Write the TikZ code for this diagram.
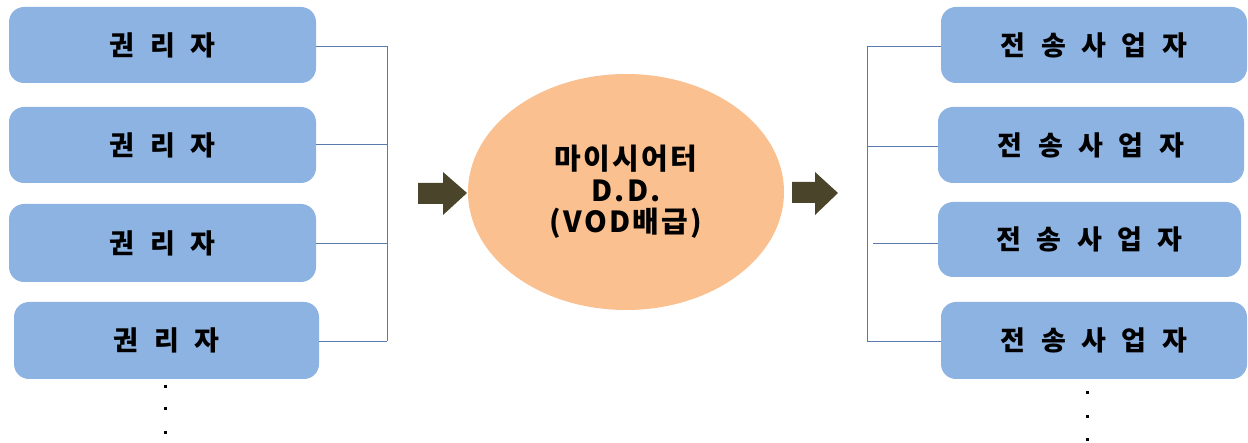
\documentclass[tikz,border=0pt]{standalone}
\usepackage{fontspec}
\usetikzlibrary{shapes.geometric}
\newfontfamily\krfont[WordSpace={2.5,0,0}]{Noto Sans CJK KR}
\newfontfamily\krmid[LetterSpace=8]{Noto Sans CJK KR}
\definecolor{boxblue}{HTML}{8DB3E2}
\definecolor{peach}{HTML}{FAC090}
\definecolor{olive}{HTML}{4A452A}
\definecolor{linec}{HTML}{5A7AAE}
\begin{document}
\begin{tikzpicture}[x=1pt,y=-1pt,
  pbox/.style={fill=boxblue, draw=none, rounded corners=15pt, inner sep=0pt, font=\krfont\bfseries\fontsize{27}{30}\selectfont, text=black},
  conn/.style={draw=linec, line width=0.9pt},
  blockarrow/.style={fill=olive, draw=none},
  dotc/.style={fill=black, minimum size=3pt, inner sep=0pt}]
\useasboundingbox (0,0) rectangle (1248,443);
% left boxes
\node[pbox, minimum width=307pt, minimum height=76pt] (l1) at (162.5,45) {권 리 자};
\node[pbox, minimum width=307pt, minimum height=76pt] (l2) at (162.5,145) {권 리 자};
\node[pbox, minimum width=307pt, minimum height=78pt] (l3) at (162.5,243) {권 리 자};
\node[pbox, minimum width=305pt, minimum height=77pt] (l4) at (166.5,340.5) {권 리 자};
% right boxes
\node[pbox, minimum width=306pt, minimum height=76pt] (r1) at (1094,45) {전 송 사 업 자};
\node[pbox, minimum width=306pt, minimum height=76pt] (r2) at (1091,145) {전 송 사 업 자};
\node[pbox, minimum width=303pt, minimum height=75pt] (r3) at (1089.5,239.5) {전 송 사 업 자};
\node[pbox, minimum width=306pt, minimum height=77pt] (r4) at (1094,340.5) {전 송 사 업 자};
% centre ellipse
\node[fill=peach, draw=none, ellipse, minimum width=316pt, minimum height=236pt, inner sep=0pt,
      font=\krmid\bfseries\fontsize{29}{31.5}\selectfont, align=center] (c) at (626,192)
  {마이시어터\\D.D.\\(VOD배급)};
% left bracket
\coordinate (lb1) at (387,46);
\coordinate (lb2) at (387,144);
\coordinate (lb3) at (387,243);
\coordinate (lb4) at (387,341);
\draw[conn] (l1.east |- lb1) -- (lb1);
\draw[conn] (l2.east |- lb2) -- (lb2);
\draw[conn] (l3.east |- lb3) -- (lb3);
\draw[conn] (l4.east |- lb4) -- (lb4);
\draw[conn] (lb1) -- (lb4);
% right bracket
\coordinate (rb1) at (867,46);
\coordinate (rb2) at (867,146);
\coordinate (rb3) at (873,243);
\coordinate (rb4) at (867,341);
\draw[conn] (rb1) -- (r1.west |- rb1);
\draw[conn] (rb2) -- (r2.west |- rb2);
\draw[conn] (rb3) -- (r3.west |- rb3);
\draw[conn] (rb4) -- (r4.west |- rb4);
\draw[conn] (rb1) -- (rb4);
% block arrows
\fill[blockarrow] (418,183) -- (443,183) -- (443,172) -- (467,193) -- (443,215) -- (443,204) -- (418,204) -- cycle;
\fill[blockarrow] (792,182) -- (815,182) -- (815,172) -- (838,193) -- (815,215) -- (815,203) -- (792,203) -- cycle;
% dots
\node[dotc] (ld1) at (165,387) {};
\node[dotc] (ld2) at (165,409) {};
\node[dotc] (ld3) at (165,433) {};
\node[dotc] (rd1) at (1087,393) {};
\node[dotc] (rd2) at (1087,417) {};
\node[dotc] (rd3) at (1087,440) {};
\end{tikzpicture}
\end{document}
